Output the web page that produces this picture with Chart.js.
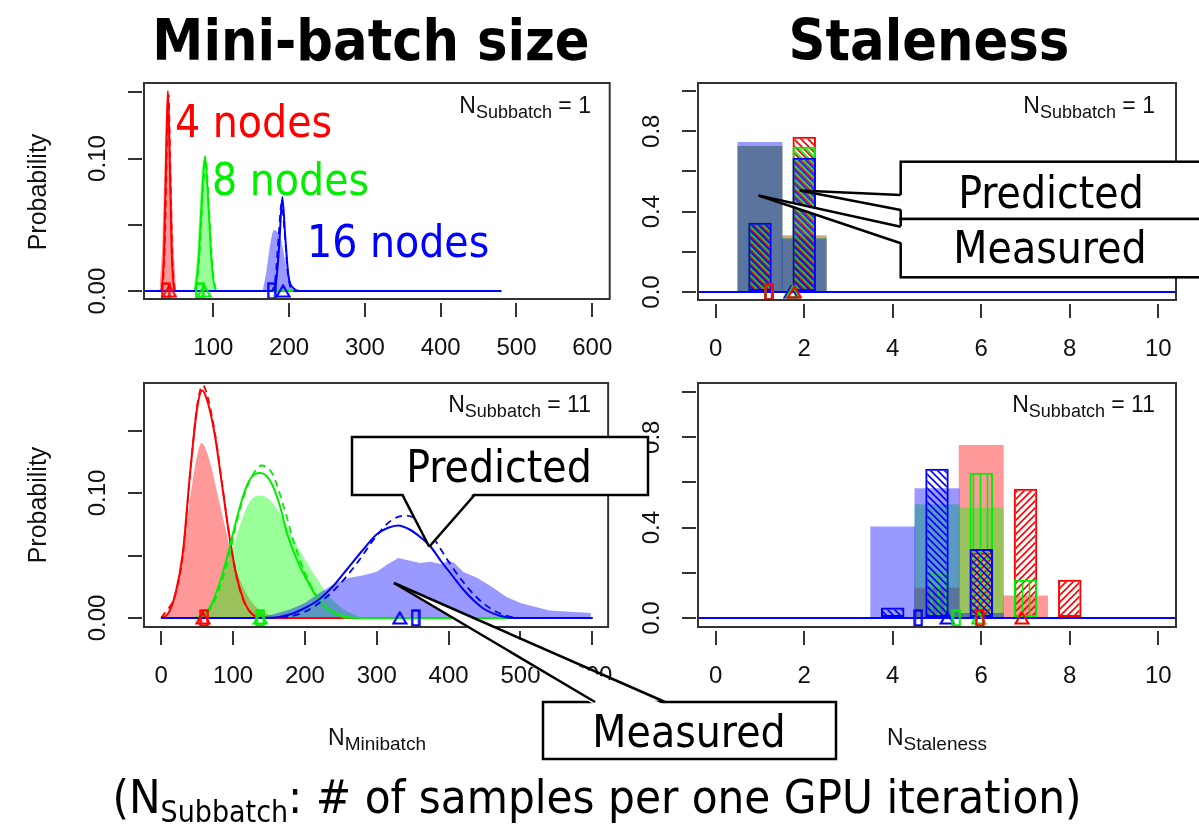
<!DOCTYPE html>
<html lang="en">
<head>
<meta charset="UTF-8">
<title>Mini-batch size and staleness</title>
<script src="https://cdn.jsdelivr.net/npm/chart.js"></script>
<style>
  body { margin: 0; background: #fff; }
  #page { position: relative; width: 1199px; height: 828px; overflow: hidden; background: #fff; }
  canvas, svg { position: absolute; }
  .t { position: absolute; white-space: nowrap; line-height: 1; }
  .cond { font-family: "DejaVu Sans Condensed", "DejaVu Sans", sans-serif; font-stretch: condensed; color: #000; }
  .lib { font-family: "Liberation Sans", Arial, sans-serif; color: #111; }
  .mid { transform: translateX(-50%); }
  .sb { position: relative; top: 5px; font-size: 18px; }
</style>
</head>
<body>
<div id="page">
  <canvas id="tl" width="630" height="300" style="left:0;top:70px"></canvas>
  <canvas id="bl" width="630" height="330" style="left:0;top:370px"></canvas>
  <canvas id="tr" width="579" height="300" style="left:620px;top:70px"></canvas>
  <canvas id="br" width="579" height="330" style="left:620px;top:370px"></canvas>
  <svg id="callouts" width="1199" height="828" style="left:0;top:0"></svg>

  <div class="t cond mid" style="left:371px;top:12px;font-size:57px;font-weight:bold">Mini-batch size</div>
  <div class="t cond mid" style="left:929px;top:12px;font-size:57px;font-weight:bold">Staleness</div>

  <div class="t lib" style="left:37px;top:192px;font-size:25px;transform:translate(-50%,-50%) rotate(-90deg)">Probability</div>
  <div class="t lib" style="left:37px;top:505px;font-size:25px;transform:translate(-50%,-50%) rotate(-90deg)">Probability</div>

  <div class="t lib" style="right:608px;top:93.5px;font-size:23px">N<span class="sb">Subbatch</span> = 1</div>
  <div class="t lib" style="right:608px;top:392.5px;font-size:23px">N<span class="sb">Subbatch</span> = 11</div>
  <div class="t lib" style="right:44px;top:93.5px;font-size:23px">N<span class="sb">Subbatch</span> = 1</div>
  <div class="t lib" style="right:44px;top:392.5px;font-size:23px">N<span class="sb">Subbatch</span> = 11</div>

  <div class="t cond" style="left:175px;top:100px;font-size:44px;color:#ff0000">4 nodes</div>
  <div class="t cond" style="left:212px;top:158px;font-size:44px;color:rgb(0,238,0)">8 nodes</div>
  <div class="t cond" style="left:307px;top:220px;font-size:44px;color:#0000ff">16 nodes</div>

  <div class="t lib mid" style="left:377px;top:726px;font-size:23px">N<span class="sb" style="font-size:19px">Minibatch</span></div>
  <div class="t lib mid" style="left:937px;top:726px;font-size:23px">N<span class="sb" style="font-size:19px">Staleness</span></div>

  <div class="t cond mid" style="left:499px;top:445px;font-size:44px">Predicted</div>
  <div class="t cond mid" style="left:689px;top:710px;font-size:44px">Measured</div>
  <div class="t cond mid" style="left:1051px;top:171px;font-size:44px">Predicted</div>
  <div class="t cond mid" style="left:1050px;top:226px;font-size:44px">Measured</div>

  <div class="t cond mid" style="left:597px;top:773px;font-size:47px">(N<span style="position:relative;top:9px;font-size:30px">Subbatch</span>: # of samples per one GPU iteration)</div>
</div>

<script>
    // ---- Mini-batch size, N_Subbatch = 1 ----
    const tlRedPredX = [0, 30, 35, 38, 40, 42, 45, 50, 300];
    const tlRedPredY = [0, 0, 0.03, 0.11, 0.151, 0.11, 0.03, 0, 0];
    const tlRedAltX = [0, 31, 36, 39, 41, 43, 46, 51, 300];
    const tlRedAltY = [0, 0, 0.035, 0.115, 0.148, 0.1, 0.025, 0, 0];
    const tlRedMeasX = [29, 33, 37, 40, 43, 47, 51];
    const tlRedMeasY = [0, 0.04, 0.12, 0.148, 0.12, 0.04, 0];
    const tlGreenPredX = [0, 74, 80, 85, 89, 93, 98, 104, 350];
    const tlGreenPredY = [0, 0, 0.02, 0.07, 0.102, 0.07, 0.02, 0, 0];
    const tlGreenAltX = [0, 75, 81, 86, 90, 94, 99, 105, 350];
    const tlGreenAltY = [0, 0, 0.022, 0.072, 0.099, 0.065, 0.018, 0, 0];
    const tlGreenMeasX = [74, 79, 84, 88, 92, 97, 102];
    const tlGreenMeasY = [0, 0.03, 0.085, 0.1, 0.08, 0.03, 0];
    const tlBluePredX = [0, 178, 183, 187, 191, 195, 199, 206, 214, 480];
    const tlBluePredY = [0, 0, 0.008, 0.035, 0.071, 0.04, 0.012, 0.002, 0, 0];
    const tlBlueAltX = [0, 176, 182, 186, 190, 194, 198, 205, 480];
    const tlBlueAltY = [0, 0, 0.01, 0.04, 0.066, 0.045, 0.015, 0, 0];
    const tlBlueMeasX = [165, 170, 175, 180, 185, 190, 195, 200, 206];
    const tlBlueMeasY = [0, 0.015, 0.035, 0.046, 0.044, 0.037, 0.022, 0.008, 0];
    const tlBoxAt = [37, 82, 177];    // red, green, blue
    const tlTriAt = [42, 88, 192];

    // ---- Mini-batch size, N_Subbatch = 11 ----
    const blRedPredX = [0, 10, 20, 30, 40, 50, 57, 65, 75, 85, 95, 105, 115, 125, 140, 600];
    const blRedPredY = [0, 0.004, 0.02, 0.052, 0.115, 0.168, 0.182, 0.172, 0.145, 0.105, 0.065, 0.033, 0.014, 0.004, 0, 0];
    const blRedAltX = [0, 20, 30, 40, 50, 58, 65, 75, 85, 95, 105, 115, 125, 140, 600];
    const blRedAltY = [0, 0.02, 0.05, 0.114, 0.17, 0.186, 0.176, 0.147, 0.106, 0.065, 0.033, 0.013, 0.004, 0, 0];
    const blRedMeasX = [0, 10, 20, 30, 40, 50, 56, 62, 70, 80, 90, 100, 110, 120, 130, 145, 160, 180];
    const blRedMeasY = [0, 0.004, 0.02, 0.05, 0.095, 0.13, 0.14, 0.135, 0.12, 0.095, 0.07, 0.046, 0.03, 0.018, 0.01, 0.004, 0.001, 0];
    const blGreenPredX = [0, 50, 60, 70, 80, 90, 100, 110, 120, 130, 138, 146, 155, 165, 175, 185, 195, 205, 215, 230, 250, 270, 600];
    const blGreenPredY = [0, 0, 0.003, 0.011, 0.026, 0.045, 0.068, 0.09, 0.107, 0.115, 0.116, 0.114, 0.106, 0.09, 0.068, 0.052, 0.039, 0.028, 0.018, 0.008, 0.002, 0, 0];
    const blGreenAltX = [0, 50, 70, 90, 110, 125, 140, 155, 170, 185, 200, 220, 240, 260, 600];
    const blGreenAltY = [0, 0, 0.009, 0.04, 0.088, 0.112, 0.122, 0.115, 0.09, 0.06, 0.036, 0.014, 0.004, 0, 0];
    const blGreenMeasX = [40, 60, 75, 90, 105, 120, 130, 138, 150, 160, 170, 185, 200, 215, 230, 245, 260, 280];
    const blGreenMeasY = [0, 0.005, 0.015, 0.04, 0.066, 0.09, 0.097, 0.098, 0.095, 0.088, 0.079, 0.062, 0.047, 0.033, 0.02, 0.011, 0.005, 0];
    const blBluePredX = [0, 150, 180, 200, 220, 240, 260, 280, 300, 315, 330, 345, 360, 375, 390, 405, 420, 435, 450, 470, 490, 600];
    const blBluePredY = [0, 0, 0.003, 0.008, 0.015, 0.026, 0.04, 0.054, 0.067, 0.072, 0.074, 0.071, 0.065, 0.057, 0.045, 0.034, 0.023, 0.014, 0.007, 0.002, 0, 0];
    const blBlueAltX = [0, 150, 200, 240, 270, 300, 320, 340, 360, 380, 400, 420, 440, 460, 480, 500, 600];
    const blBlueAltY = [0, 0, 0.005, 0.022, 0.042, 0.066, 0.078, 0.082, 0.077, 0.063, 0.045, 0.029, 0.016, 0.007, 0.002, 0, 0];
    const blBlueMeasX = [120, 150, 180, 200, 220, 240, 260, 280, 300, 315, 330, 345, 360, 375, 390, 400, 408, 420, 440, 460, 480, 500, 520, 540, 570, 598];
    const blBlueMeasY = [0, 0.002, 0.007, 0.012, 0.02, 0.027, 0.032, 0.034, 0.037, 0.043, 0.048, 0.046, 0.044, 0.045, 0.043, 0.046, 0.044, 0.037, 0.032, 0.025, 0.017, 0.012, 0.009, 0.006, 0.005, 0.004];
    const blBoxAt = [60, 138, 354];
    const blTriAt = [58, 138, 332];

    // ---- Staleness, N_Subbatch = 1 ----
    const trBins = [1, 2];
    const trMeasRed = [0.725, 0.28];
    const trMeasGreen = [0.725, 0.275];
    const trMeasBlue = [0.745, 0.265];
    const trPredRed = [0.345, 0.772];
    const trPredGreen = [0.345, 0.723];
    const trPredBlue = [0.345, 0.668];
    const trBoxAt = [1.2, 1.2, 1.2];
    const trTriAt = [1.78, 1.74, 1.7];

    // ---- Staleness, N_Subbatch = 11 ----
    const brBins = [4, 5, 6, 7, 8];
    const brMeasRed = [null, 0.132, 0.764, 0.098, null];
    const brMeasGreen = [null, 0.502, 0.487, null, null];
    const brMeasBlue = [0.403, 0.573, 0.02, null, null];
    const brPredRed = [null, null, 0.29, 0.572, 0.169];
    const brPredGreen = [null, 0.2, 0.643, 0.169, null];
    const brPredBlue = [0.046, 0.661, 0.305, null, null];
    const brBoxAt = [5.97, 5.44, 4.58];
    const brTriAt = [6.92, 5.94, 5.23];

    const zeroLineX = [-1, 11];
    const zeroLineY = [0, 0];

    // axes
    const tlXTicks = [100, 200, 300, 400, 500, 600];
    const blXTicks = [0, 100, 200, 300, 400, 500, 600];
    const stXTicks = [0, 2, 4, 6, 8, 10];
    const mbYTicks = [0, 0.05, 0.10, 0.15];
    const mbYLabels = ['0.00', '', '0.10', ''];
    const stYTicks = [0, 0.2, 0.4, 0.6, 0.8, 1.0];
    const stYLabels = ['0.0', '', '0.4', '', '0.8', ''];

    // callout anchors (data coordinates)
    const blPredictedAt = [373, 0.057];
    const blMeasuredAt = [324, 0.028];
    const trPredictedAt = [1.9, 0.505];
    const trMeasuredAt = [0.97, 0.48];

    const RED = '#ff0000', GREEN = 'rgb(0,238,0)', BLUE = '#0000ff';
    const RED_A = 'rgba(255,0,0,0.4)', GREEN_A = 'rgba(0,255,0,0.4)', BLUE_A = 'rgba(0,0,255,0.4)';

    function pts(xs, ys) {
        return xs.map((x, i) => ({x: x, y: ys[i]}));
    }

    // hatch fill; phase shifts the stripes so overlapping bars interleave
    function hatch(color, kind, phase) {
        const s = 7;
        const c = document.createElement('canvas');
        c.width = s; c.height = s;
        const g = c.getContext('2d');
        g.strokeStyle = color;
        g.lineWidth = 1.6;
        g.beginPath();
        if (kind === 'v') {
            g.moveTo(s / 2, 0); g.lineTo(s / 2, s);
        } else if (kind === '/') {
            g.moveTo(0, s); g.lineTo(s, 0);
            g.moveTo(-1, 1); g.lineTo(1, -1);
            g.moveTo(s - 1, s + 1); g.lineTo(s + 1, s - 1);
        } else {
            g.moveTo(0, 0); g.lineTo(s, s);
            g.moveTo(-1, s - 1); g.lineTo(1, s + 1);
            g.moveTo(s - 1, -1); g.lineTo(s + 1, 1);
        }
        g.stroke();
        const p = g.createPattern(c, 'repeat');
        if (phase) p.setTransform(new DOMMatrix().translate(phase, 0));
        return p;
    }

    function boxMark(color) {
        const c = document.createElement('canvas');
        c.width = 10; c.height = 18;
        const g = c.getContext('2d');
        g.strokeStyle = color; g.lineWidth = 2.4;
        g.strokeRect(1.5, 1.5, 7, 15);
        return c;
    }

    function triMark(color) {
        const c = document.createElement('canvas');
        c.width = 16; c.height = 14;
        const g = c.getContext('2d');
        g.strokeStyle = color; g.lineWidth = 2.2;
        g.beginPath();
        g.moveTo(8, 1.5); g.lineTo(14.5, 12.5); g.lineTo(1.5, 12.5);
        g.closePath(); g.stroke();
        return c;
    }

    // R style frame and rotated y tick labels
    function frame(yTicks, yLabels) {
        return {
            id: 'rFrame',
            afterDraw(chart) {
                const ctx = chart.ctx, a = chart.chartArea, ys = chart.scales.y;
                ctx.save();
                ctx.strokeStyle = '#333';
                ctx.lineWidth = 2;
                ctx.strokeRect(a.left, a.top, a.right - a.left, a.bottom - a.top);
                ctx.fillStyle = '#111';
                ctx.font = '24px "Liberation Sans", Arial, sans-serif';
                ctx.textAlign = 'center';
                ctx.textBaseline = 'middle';
                yTicks.forEach((v, i) => {
                    if (!yLabels[i]) return;
                    ctx.save();
                    ctx.translate(a.left - 46, ys.getPixelForValue(v));
                    ctx.rotate(-Math.PI / 2);
                    ctx.fillText(yLabels[i], 0, 0);
                    ctx.restore();
                });
                ctx.restore();
            }
        };
    }

    function scales(xMin, xMax, xTicks, yMin, yMax, yTicks, xAxisH) {
        return {
            x: {
                type: 'linear', min: xMin, max: xMax, offset: false,
                afterBuildTicks: s => { s.ticks = xTicks.map(v => ({value: v})); },
                afterFit: s => { s.height = xAxisH; },
                border: {display: false},
                grid: {offset: false, drawOnChartArea: false, tickLength: 18, lineWidth: 2, tickWidth: 2,
                    tickColor: '#333', tickBorderDash: [0, 4, 14, 0]},
                ticks: {padding: 17, color: '#111', autoSkip: false, maxRotation: 0,
                    font: {family: '"Liberation Sans", Arial, sans-serif', size: 24},
                    callback: v => String(v)}
            },
            y: {
                type: 'linear', min: yMin, max: yMax,
                afterBuildTicks: s => { s.ticks = yTicks.map(v => ({value: v})); },
                afterFit: s => { s.width = 16; },
                border: {display: false},
                grid: {drawOnChartArea: false, tickLength: 16, lineWidth: 2, tickWidth: 2,
                    tickColor: '#333', tickBorderDash: [14, 2]},
                ticks: {display: false}
            }
        };
    }

    function lineSet(xs, ys, color, order, dashed) {
        return {type: 'line', data: pts(xs, ys), borderColor: color, borderWidth: dashed ? 1.8 : 2,
            borderDash: dashed ? [7, 5] : [], pointRadius: 0, fill: false,
            cubicInterpolationMode: 'monotone', order: order};
    }

    function areaSet(xs, ys, color, order, smooth) {
        return {type: 'line', data: pts(xs, ys), borderColor: 'rgba(0,0,0,0)', borderWidth: 0,
            backgroundColor: color, fill: 'origin', pointRadius: 0,
            cubicInterpolationMode: smooth ? 'monotone' : 'default', tension: 0, order: order};
    }

    function markSet(x, img) {
        return {type: 'line', showLine: false, data: [{x: x, y: 0}], pointStyle: img,
            pointRadius: 4, clip: false, order: 0};
    }

    function barSet(xs, ys, fill, border, width, order) {
        return {type: 'bar', data: pts(xs, ys), backgroundColor: fill,
            borderColor: border || 'rgba(0,0,0,0)', borderWidth: border ? 2 : 0, borderSkipped: false,
            grouped: false, categoryPercentage: 1, barPercentage: width, order: order};
    }

    function markers(boxAt, triAt) {
        const cols = [RED, GREEN, BLUE];
        const out = [];
        cols.forEach((c, i) => {
            out.push(markSet(boxAt[i], boxMark(c)));
            out.push(markSet(triAt[i], triMark(c)));
        });
        return out;
    }

    const baseOptions = (pad, sc) => ({
        responsive: false,
        animation: false,
        layout: {padding: pad},
        plugins: {legend: {display: false}, tooltip: {enabled: false}},
        scales: sc
    });

    const tlChart = new Chart(document.getElementById('tl'), {
        type: 'line',
        data: {datasets: [
            areaSet(tlRedMeasX, tlRedMeasY, RED_A, 9, true),
            areaSet(tlGreenMeasX, tlGreenMeasY, GREEN_A, 8, true),
            areaSet(tlBlueMeasX, tlBlueMeasY, BLUE_A, 7, true),
            lineSet(tlRedAltX, tlRedAltY, RED, 6.5, true),
            lineSet(tlRedPredX, tlRedPredY, RED, 6, false),
            lineSet(tlGreenAltX, tlGreenAltY, GREEN, 5.5, true),
            lineSet(tlGreenPredX, tlGreenPredY, GREEN, 5, false),
            lineSet(tlBlueAltX, tlBlueAltY, BLUE, 4.5, true),
            lineSet(tlBluePredX, tlBluePredY, BLUE, 4, false)
        ].concat(markers(tlBoxAt, tlTriAt))},
        options: baseOptions({left: 128, top: 13, right: 19, bottom: 0},
            scales(8.5, 623, tlXTicks, -0.006, 0.157, mbYTicks, 71)),
        plugins: [frame(mbYTicks, mbYLabels)]
    });

    const blChart = new Chart(document.getElementById('bl'), {
        type: 'line',
        data: {datasets: [
            areaSet(blRedMeasX, blRedMeasY, RED_A, 9, true),
            areaSet(blGreenMeasX, blGreenMeasY, GREEN_A, 8, true),
            areaSet(blBlueMeasX, blBlueMeasY, BLUE_A, 7, false),
            lineSet(blRedAltX, blRedAltY, RED, 6.5, true),
            lineSet(blRedPredX, blRedPredY, RED, 6, false),
            lineSet(blGreenAltX, blGreenAltY, GREEN, 5.5, true),
            lineSet(blGreenPredX, blGreenPredY, GREEN, 5, false),
            lineSet(blBlueAltX, blBlueAltY, BLUE, 4.5, true),
            lineSet(blBluePredX, blBluePredY, BLUE, 4, false)
        ].concat(markers(blBoxAt, blTriAt))},
        options: baseOptions({left: 128, top: 13, right: 19, bottom: 0},
            scales(-24, 622, blXTicks, -0.0072, 0.188, mbYTicks, 73)),
        plugins: [frame(mbYTicks, mbYLabels)]
    });

    const trChart = new Chart(document.getElementById('tr'), {
        type: 'bar',
        data: {datasets: [
            barSet(trBins, trMeasRed, RED_A, null, 1, 9),
            barSet(trBins, trMeasGreen, GREEN_A, null, 1, 8),
            barSet(trBins, trMeasBlue, BLUE_A, null, 1, 7),
            barSet(trBins, trPredRed, hatch(RED, '\\', 0), RED, 0.53, 6),
            barSet(trBins, trPredGreen, hatch(GREEN, '\\', 2.3), GREEN, 0.53, 5),
            barSet(trBins, trPredBlue, hatch(BLUE, '\\', 4.6), BLUE, 0.53, 4),
            lineSet(zeroLineX, zeroLineY, BLUE, 2, false)
        ].concat(markers(trBoxAt, trTriAt))},
        options: baseOptions({left: 62, top: 13, right: 23, bottom: 0},
            scales(-0.4, 10.4, stXTicks, -0.04, 1.04, stYTicks, 70)),
        plugins: [frame(stYTicks, stYLabels)]
    });

    const brChart = new Chart(document.getElementById('br'), {
        type: 'bar',
        data: {datasets: [
            barSet(brBins, brMeasRed, RED_A, null, 1, 9),
            barSet(brBins, brMeasGreen, GREEN_A, null, 1, 8),
            barSet(brBins, brMeasBlue, BLUE_A, null, 1, 7),
            barSet(brBins, brPredRed, hatch(RED, '/', 0), RED, 0.53, 6),
            barSet(brBins, brPredGreen, hatch(GREEN, 'v', 0), GREEN, 0.53, 5),
            barSet(brBins, brPredBlue, hatch(BLUE, '\\', 0), BLUE, 0.53, 4),
            lineSet(zeroLineX, zeroLineY, BLUE, 2, false)
        ].concat(markers(brBoxAt, brTriAt))},
        options: baseOptions({left: 62, top: 13, right: 23, bottom: 0},
            scales(-0.4, 10.4, stXTicks, -0.04, 1.04, stYTicks, 73)),
        plugins: [frame(stYTicks, stYLabels)]
    });

    // callout boxes with wedges pointing into the charts
    function toPage(chart, at) {
        const c = chart.canvas;
        return [c.offsetLeft + chart.scales.x.getPixelForValue(at[0]),
                c.offsetTop + chart.scales.y.getPixelForValue(at[1])];
    }
    function rect(x, y, w, h) {
        return `<rect x="${x}" y="${y}" width="${w}" height="${h}" fill="#fff" stroke="#000" stroke-width="2.5"/>`;
    }
    function wedge(b1, b2, tip, nudge) {
        const p = [[b1[0] + nudge[0], b1[1] + nudge[1]], tip, [b2[0] + nudge[0], b2[1] + nudge[1]]];
        return `<polygon points="${p.map(q => q.join(',')).join(' ')}" fill="#fff" stroke="none"/>` +
            `<line x1="${b1[0]}" y1="${b1[1]}" x2="${tip[0]}" y2="${tip[1]}" stroke="#000" stroke-width="2.5"/>` +
            `<line x1="${b2[0]}" y1="${b2[1]}" x2="${tip[0]}" y2="${tip[1]}" stroke="#000" stroke-width="2.5"/>`;
    }
    let svg = '';
    svg += rect(352, 437, 296, 58) + wedge([402.5, 495], [474.5, 495], toPage(blChart, blPredictedAt), [0, -3]);
    svg += rect(543, 702, 293, 57) + wedge([595, 702], [665, 702], toPage(blChart, blMeasuredAt), [0, 3]);
    svg += rect(900.7, 161.7, 320, 57.3) + rect(900.7, 219, 320, 58.3);
    svg += wedge([900.7, 195], [900.7, 210], toPage(trChart, trPredictedAt), [3, 0]);
    svg += wedge([900.7, 226.7], [900.7, 243.3], toPage(trChart, trMeasuredAt), [3, 0]);
    document.getElementById('callouts').innerHTML = svg;
</script>
</body>
</html>
